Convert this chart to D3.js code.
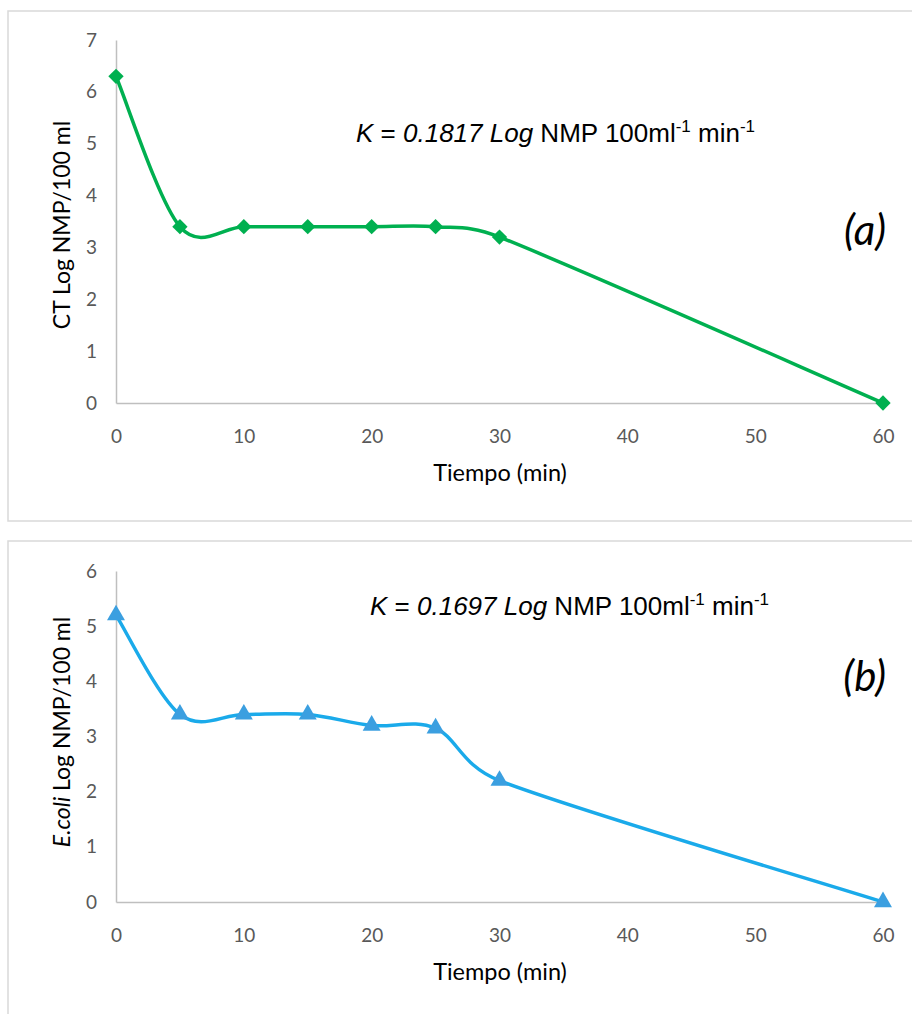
<!DOCTYPE html>
<html><head><meta charset="utf-8">
<script src="https://cdn.jsdelivr.net/npm/d3@7"></script>
<style>body{margin:0;background:#fff}svg{display:block}</style>
</head><body>
<script>
const times = [0, 5, 10, 15, 20, 25, 30, 60];
const ctValues = [6.3, 3.4, 3.4, 3.4, 3.4, 3.4, 3.2, 0];
const ecoliValues = [5.2, 3.4, 3.4, 3.4, 3.2, 3.15, 2.2, 0];
const xTicks = [0, 10, 20, 30, 40, 50, 60];
const ctYTicks = [0, 1, 2, 3, 4, 5, 6, 7];
const ecoliYTicks = [0, 1, 2, 3, 4, 5, 6];
const xTitle = "Tiempo (min)";

const W = 912, H = 1014;
const svg = d3.select("body").append("svg").attr("width", W).attr("height", H);

// Spreadsheet-style smoothed line: Bezier segments with control arms limited to half the segment length
function smoothCurve(context) {
  let pts;
  const dist = (a, b) => Math.hypot(b[0] - a[0], b[1] - a[1]);
  return {
    areaStart() {}, areaEnd() {},
    lineStart() { pts = []; },
    point(x, y) { pts.push([+x, +y]); },
    lineEnd() {
      const n = pts.length;
      if (!n) return;
      context.moveTo(pts[0][0], pts[0][1]);
      const f = 1 / 6;
      for (let i = 0; i < n - 1; i++) {
        const p0 = pts[Math.max(i - 1, 0)], p1 = pts[i], p2 = pts[i + 1], p3 = pts[Math.min(i + 2, n - 1)];
        const d12 = dist(p1, p2), d02 = dist(p0, p2), d13 = dist(p1, p3);
        let f1 = f, f2 = f;
        if (d02 * f >= d12 / 2 && d02 > 0) f1 = d12 / d02 / 2;
        if (d13 * f >= d12 / 2 && d13 > 0) f2 = d12 / d13 / 2;
        const c1 = [p1[0] + (p2[0] - p0[0]) * f1, p1[1] + (p2[1] - p0[1]) * f1];
        const c2 = [p2[0] - (p3[0] - p1[0]) * f2, p2[1] - (p3[1] - p1[1]) * f2];
        context.bezierCurveTo(c1[0], c1[1], c2[0], c2[1], p2[0], p2[1]);
      }
    }
  };
}

function panel(cfg) {
  const g = svg.append("g");
  g.append("rect").attr("x", cfg.box[0]).attr("y", cfg.box[1]).attr("width", cfg.box[2]).attr("height", cfg.box[3])
    .attr("fill", "none").attr("stroke", "#d9d9d9").attr("stroke-width", 1.5);
  const x = d3.scaleLinear().domain([0, 60]).range([116, 883]);
  const y = d3.scaleLinear().domain([0, cfg.yMax]).range([cfg.y0, cfg.yTop]);
  const xa = g.append("g").attr("transform", `translate(0,${cfg.y0})`)
    .call(d3.axisBottom(x).tickValues(xTicks).tickSize(0).tickPadding(27).tickFormat(d3.format("d")));
  const ya = g.append("g").attr("transform", `translate(116,0)`)
    .call(d3.axisLeft(y).tickValues(cfg.yTicks).tickSize(0).tickPadding(19).tickFormat(d3.format("d")));
  [xa, ya].forEach(a => {
    a.select(".domain").attr("stroke", "#bfbfbf").attr("stroke-width", 1.5);
    a.selectAll("text").attr("fill", "#595959").style("font-family", "Lato").style("font-size", "19px");
  });
  const line = d3.line().x((d, i) => x(times[i])).y(d => y(d)).curve(smoothCurve);
  g.append("path").datum(cfg.values).attr("d", line).attr("fill", "none")
    .attr("stroke", cfg.color).attr("stroke-width", 3.5);
  g.selectAll("path.m").data(cfg.values).join("path").attr("class", "m")
    .attr("transform", (d, i) => `translate(${x(times[i])},${y(d)})`)
    .attr("d", d3.symbol().type(cfg.symbol).size(cfg.symSize))
    .attr("fill", cfg.markColor);
  g.append("text").attr("x", 500).attr("y", cfg.y0 + 78).attr("text-anchor", "middle")
    .style("font-family", "Lato").style("font-size", "23.5px").attr("fill", "#000").text(xTitle);
  const yt = g.append("text").attr("transform", `translate(70,${cfg.yTitleY}) rotate(-90)`).attr("text-anchor", "middle")
    .style("font-family", "Lato").style("font-size", "23px").attr("fill", "#000");
  cfg.yTitle.forEach(p => yt.append("tspan").style("font-style", p[1] ? "italic" : "normal").text(p[0]));
  const k = g.append("text").attr("x", cfg.kX).attr("y", cfg.kY)
    .style("font-family", "Liberation Sans, Arial").style("font-size", "26px").attr("fill", "#000");
  k.append("tspan").style("font-style", "italic").text("K");
  k.append("tspan").text(" = ");
  k.append("tspan").style("font-style", "italic").text(cfg.k + " Log");
  k.append("tspan").text(" NMP 100ml");
  k.append("tspan").attr("dy", -10).style("font-size", "17px").text("-1");
  k.append("tspan").attr("dy", 10).text(" min");
  k.append("tspan").attr("dy", -10).style("font-size", "17px").text("-1");
  g.append("text").attr("x", 886).attr("y", cfg.labelY).attr("text-anchor", "end")
    .style("font-family", "Lato").style("font-size", "42px").style("font-style", "italic").attr("fill", "#000").text(cfg.label);
}

panel({box: [8, 11, 912, 510], yMax: 7, y0: 403, yTop: 40, yTicks: ctYTicks, values: ctValues,
  color: "#00b050", markColor: "#00b050", symbol: d3.symbolDiamond2, symSize: 150,
  yTitle: [["CT Log NMP/100 ml", false]], yTitleY: 225, k: "0.1817", kX: 356, kY: 142, label: "(a)", labelY: 245});
panel({box: [8, 541, 912, 500], yMax: 6, y0: 902, yTop: 571, yTicks: ecoliYTicks, values: ecoliValues,
  color: "#1aaaea", markColor: "#3b9fe0", symbol: d3.symbolTriangle, symSize: 140,
  yTitle: [["E.coli", true], [" Log NMP/100 ml", false]], yTitleY: 732, k: "0.1697", kX: 370, kY: 615, label: "(b)", labelY: 691});
</script>
</body></html>
